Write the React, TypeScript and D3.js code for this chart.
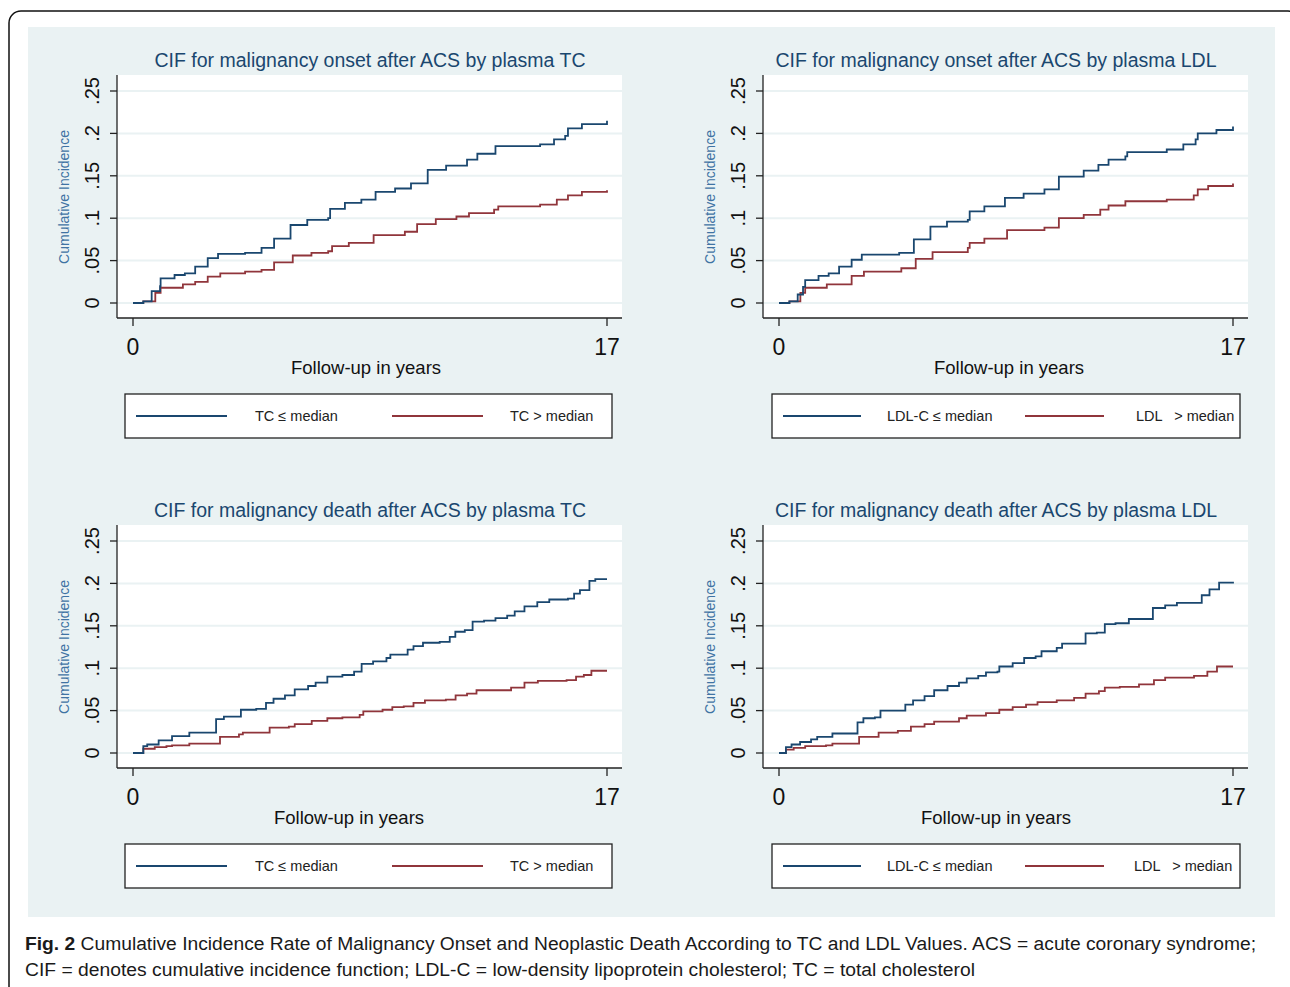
import React from 'react';
import * as d3 from 'd3';

// step-curve readings: [years, cumulative incidence]
const onsetTcLow: [number, number][] = [
  [0, 0], [0.37, 0.002], [0.67, 0.014], [0.97, 0.02], [0.99, 0.029], [1.49, 0.033], [1.86, 0.035],
  [2.23, 0.043], [2.68, 0.053], [3.05, 0.058], [4.02, 0.059], [4.61, 0.065], [5.06, 0.076],
  [5.65, 0.092], [6.25, 0.098], [7.0, 0.1], [7.07, 0.111], [7.6, 0.118], [8.19, 0.122],
  [8.7, 0.131], [9.4, 0.135], [9.97, 0.141], [10.57, 0.157], [11.23, 0.162], [11.98, 0.169],
  [12.35, 0.176], [13.0, 0.185], [14.6, 0.187], [15.1, 0.193], [15.5, 0.197], [15.6, 0.206],
  [16.1, 0.211], [17, 0.215],
];
const onsetTcHigh: [number, number][] = [
  [0, 0], [0.37, 0.002], [0.8, 0.012], [0.99, 0.018], [1.79, 0.022], [2.23, 0.025], [2.68, 0.031],
  [3.13, 0.035], [4.02, 0.037], [4.61, 0.039], [5.06, 0.048], [5.73, 0.056], [6.4, 0.059],
  [7.0, 0.061], [7.14, 0.067], [7.74, 0.071], [8.63, 0.08], [9.75, 0.084], [10.19, 0.093],
  [10.86, 0.099], [11.6, 0.102], [12.05, 0.106], [12.95, 0.11], [13.1, 0.114], [14.6, 0.116],
  [15.2, 0.122], [15.6, 0.127], [16.1, 0.131], [17, 0.133],
];
const onsetLdlLow: [number, number][] = [
  [0, 0], [0.39, 0.002], [0.7, 0.01], [0.9, 0.019], [0.98, 0.027], [1.48, 0.032], [1.86, 0.035],
  [2.25, 0.043], [2.72, 0.051], [3.1, 0.057], [4.5, 0.059], [5.05, 0.075], [5.67, 0.09],
  [6.29, 0.096], [7.07, 0.098], [7.14, 0.108], [7.69, 0.114], [8.46, 0.124], [9.16, 0.129],
  [9.94, 0.134], [10.48, 0.149], [11.41, 0.156], [11.96, 0.163], [12.34, 0.169], [12.97, 0.173],
  [13.04, 0.178], [14.52, 0.181], [15.14, 0.187], [15.6, 0.193], [15.68, 0.2], [16.38, 0.204],
  [17, 0.208],
];
const onsetLdlHigh: [number, number][] = [
  [0, 0], [0.39, 0.002], [0.8, 0.012], [0.98, 0.018], [1.79, 0.022], [2.72, 0.032], [3.18, 0.037],
  [4.04, 0.037], [4.58, 0.041], [5.12, 0.052], [5.75, 0.06], [7.07, 0.065], [7.14, 0.071],
  [7.69, 0.076], [8.54, 0.086], [9.94, 0.089], [10.48, 0.1], [11.41, 0.104], [12.03, 0.11],
  [12.34, 0.115], [12.97, 0.12], [14.52, 0.122], [15.53, 0.127], [15.68, 0.134], [16.07, 0.138],
  [17, 0.141],
];
const deathTcLow: [number, number][] = [
  [0, 0], [0.37, 0.008], [0.51, 0.01], [0.92, 0.015], [1.4, 0.02], [2.02, 0.024], [2.7, 0.024],
  [2.98, 0.04], [3.26, 0.043], [3.87, 0.051], [4.42, 0.052], [4.77, 0.059], [5.04, 0.064],
  [5.45, 0.068], [5.8, 0.075], [6.28, 0.079], [6.55, 0.083], [6.97, 0.09], [7.51, 0.092],
  [7.93, 0.096], [8.2, 0.105], [8.61, 0.108], [9.09, 0.112], [9.23, 0.116], [9.85, 0.122],
  [10.06, 0.126], [10.4, 0.13], [11.0, 0.131], [11.36, 0.137], [11.56, 0.143], [11.9, 0.145],
  [12.18, 0.155], [12.59, 0.156], [13.0, 0.159], [13.42, 0.162], [13.69, 0.167], [14.04, 0.173],
  [14.5, 0.178], [14.93, 0.181], [15.6, 0.182], [15.82, 0.188], [16.03, 0.192], [16.37, 0.203],
  [16.58, 0.205], [17, 0.205],
];
const deathTcHigh: [number, number][] = [
  [0, 0], [0.37, 0.005], [0.78, 0.007], [1.2, 0.008], [1.4, 0.009], [2.02, 0.011], [2.7, 0.011],
  [3.12, 0.019], [3.8, 0.022], [3.94, 0.024], [4.49, 0.024], [4.9, 0.03], [5.59, 0.031],
  [5.8, 0.034], [6.41, 0.038], [6.97, 0.041], [7.51, 0.042], [8.13, 0.045], [8.26, 0.049],
  [8.95, 0.051], [9.3, 0.054], [9.71, 0.055], [10.06, 0.059], [10.47, 0.062], [11.22, 0.063],
  [11.57, 0.068], [11.98, 0.07], [12.32, 0.074], [13.08, 0.074], [13.56, 0.077], [14.04, 0.083],
  [14.52, 0.085], [15.55, 0.086], [15.89, 0.09], [16.17, 0.092], [16.44, 0.097], [17, 0.097],
];
const deathLdlLow: [number, number][] = [
  [0, 0], [0.26, 0.007], [0.47, 0.01], [0.79, 0.013], [1.2, 0.016], [1.43, 0.019], [2.0, 0.023],
  [2.65, 0.023], [2.94, 0.036], [3.16, 0.041], [3.59, 0.042], [3.8, 0.05], [4.37, 0.05],
  [4.73, 0.057], [5.02, 0.062], [5.45, 0.067], [5.81, 0.074], [6.31, 0.079], [6.74, 0.083],
  [7.03, 0.088], [7.46, 0.091], [7.75, 0.095], [8.18, 0.096], [8.25, 0.102], [8.75, 0.106],
  [9.18, 0.112], [9.61, 0.114], [9.83, 0.12], [10.4, 0.124], [10.6, 0.129], [11.05, 0.129],
  [11.48, 0.141], [11.9, 0.142], [12.2, 0.152], [12.6, 0.153], [13.1, 0.158], [13.6, 0.158],
  [14.0, 0.171], [14.46, 0.174], [14.9, 0.177], [15.54, 0.177], [15.83, 0.186], [16.12, 0.193],
  [16.48, 0.201], [17, 0.202],
];
const deathLdlHigh: [number, number][] = [
  [0, 0], [0.26, 0.004], [0.55, 0.006], [0.98, 0.008], [1.76, 0.009], [2.0, 0.011], [2.65, 0.011],
  [3.0, 0.019], [3.73, 0.024], [4.45, 0.026], [4.94, 0.031], [5.45, 0.034], [5.81, 0.037],
  [6.74, 0.041], [7.03, 0.044], [7.75, 0.047], [8.25, 0.051], [8.75, 0.054], [9.25, 0.057],
  [9.68, 0.06], [10.4, 0.062], [11.05, 0.065], [11.48, 0.07], [11.98, 0.073], [12.2, 0.077],
  [12.76, 0.078], [13.48, 0.081], [14.04, 0.086], [14.46, 0.089], [15.54, 0.091], [16.04, 0.096],
  [16.4, 0.102], [17, 0.102],
];

const titles = [
  'CIF for malignancy onset after ACS by plasma TC',
  'CIF for malignancy onset after ACS by plasma LDL',
  'CIF for malignancy death after ACS by plasma TC',
  'CIF for malignancy death after ACS by plasma LDL',
];
const lowLabels = ['TC ≤ median', 'LDL-C ≤ median', 'TC ≤ median', 'LDL-C ≤ median'];
const highLabels = ['TC > median', 'LDL   > median', 'TC > median', 'LDL   > median'];
const lowSeries = [onsetTcLow, onsetLdlLow, deathTcLow, deathLdlLow];
const highSeries = [onsetTcHigh, onsetLdlHigh, deathTcHigh, deathLdlHigh];
const yTicks = [0, 0.05, 0.1, 0.15, 0.2, 0.25];
const yTickLabels = ['0', '.05', '.1', '.15', '.2', '.25'];
const xTicks = [0, 17];

const BLUE = '#1a476f';
const RED = '#90353b';
const BG = '#eaf2f3';
const FONT = "'Liberation Sans', Arial, sans-serif";

// panel layout (pixels)
const panels = [
  { left: 117, right: 622, x0: 133, x1: 607, top: 75, title: 370, xt: 366, lg: [125, 612], l1: [136, 227, 255], l2: [392, 483, 510] },
  { left: 763, right: 1248, x0: 779, x1: 1233, top: 75, title: 996, xt: 1009, lg: [772, 1240], l1: [783, 861, 887], l2: [1025, 1104, 1136] },
  { left: 117, right: 622, x0: 133, x1: 607, top: 525, title: 370, xt: 349, lg: [125, 612], l1: [136, 227, 255], l2: [392, 483, 510] },
  { left: 763, right: 1248, x0: 779, x1: 1233, top: 525, title: 996, xt: 996, lg: [772, 1240], l1: [783, 861, 887], l2: [1025, 1104, 1134] },
];

const Panel = ({ i }: { i: number }) => {
  const p = panels[i];
  const top = p.top;
  const bottom = top + 243;
  const x = d3.scaleLinear().domain([0, 17]).range([p.x0, p.x1]);
  const y = d3.scaleLinear().domain([0, 0.25]).range([top + 228, top + 16]);
  const line = d3
    .line<[number, number]>()
    .x((d) => x(d[0]))
    .y((d) => y(d[1]))
    .curve(d3.curveStepAfter);
  const lgTop = top + 319;
  const lgMid = lgTop + 22;

  return (
    <g>
      <text x={p.title} y={top - 8} textAnchor='middle' fill={BLUE} fontSize={19.5} fontFamily={FONT}>
        {titles[i]}
      </text>
      <rect x={p.left} y={top} width={p.right - p.left} height={bottom - top} fill='#ffffff' />
      {yTicks.map((t) => (
        <line key={'g' + t} x1={p.left} x2={p.right} y1={y(t)} y2={y(t)} stroke={BG} strokeWidth={2} />
      ))}
      {yTicks.map((t, k) => (
        <g key={'t' + t}>
          <line x1={p.left - 7} x2={p.left} y1={y(t)} y2={y(t)} stroke='#222' strokeWidth={1.3} />
          <text
            transform={`translate(${p.left - 18},${y(t)}) rotate(-90)`}
            textAnchor='middle'
            fontSize={20}
            fontFamily={FONT}
            fill='#111'
          >
            {yTickLabels[k]}
          </text>
        </g>
      ))}
      <text
        transform={`translate(${p.left - 48},${top + 122}) rotate(-90)`}
        textAnchor='middle'
        fontSize={14}
        fontFamily={FONT}
        fill='#3f73a3'
      >
        Cumulative Incidence
      </text>
      <path d={line(highSeries[i]) || ''} fill='none' stroke={RED} strokeWidth={1.8} />
      <path d={line(lowSeries[i]) || ''} fill='none' stroke={BLUE} strokeWidth={1.8} />
      <line x1={p.left} x2={p.left} y1={top} y2={bottom} stroke='#222' strokeWidth={1.3} />
      <line x1={p.left} x2={p.right} y1={bottom} y2={bottom} stroke='#222' strokeWidth={1.3} />
      {xTicks.map((t) => (
        <g key={'x' + t}>
          <line x1={x(t)} x2={x(t)} y1={bottom} y2={bottom + 8} stroke='#222' strokeWidth={1.3} />
          <text x={x(t)} y={bottom + 37} textAnchor='middle' fontSize={23} fontFamily={FONT} fill='#111'>
            {t}
          </text>
        </g>
      ))}
      <text x={p.xt} y={bottom + 56} textAnchor='middle' fontSize={18.5} fontFamily={FONT} fill='#111'>
        Follow-up in years
      </text>
      <rect x={p.lg[0]} y={lgTop} width={p.lg[1] - p.lg[0]} height={44} fill='#ffffff' stroke='#222' strokeWidth={1.3} />
      <line x1={p.l1[0]} x2={p.l1[1]} y1={lgMid} y2={lgMid} stroke={BLUE} strokeWidth={2} />
      <text x={p.l1[2]} y={lgMid + 5} fontSize={14.5} fontFamily={FONT} fill='#222'>
        {lowLabels[i]}
      </text>
      <line x1={p.l2[0]} x2={p.l2[1]} y1={lgMid} y2={lgMid} stroke={RED} strokeWidth={2} />
      <text x={p.l2[2]} y={lgMid + 5} fontSize={14.5} fontFamily={FONT} fill='#222' style={{ whiteSpace: 'pre' }}>
        {highLabels[i]}
      </text>
    </g>
  );
};

const App = () => {
  return (
    <svg
      width={1290}
      height={987}
      style={{ position: 'absolute', left: 0, top: 0, background: '#ffffff' }}
    >
      <rect x={9} y={11} width={1291} height={1000} rx={12} fill='#ffffff' stroke='#111' strokeWidth={1.5} />
      <rect x={28} y={27} width={1247} height={890} fill={BG} />
      {panels.map((_, i) => (
        <Panel key={i} i={i} />
      ))}
      <g fontFamily="'Liberation Sans Narrow', 'Liberation Sans', Arial, sans-serif" fontSize={18} fill='#1a1a1a'>
        <text x={25} y={950} textLength={1231} lengthAdjust='spacingAndGlyphs'>
          <tspan fontWeight='bold'>Fig. 2</tspan> Cumulative Incidence Rate of Malignancy Onset and Neoplastic Death According to TC and LDL Values. ACS = acute coronary syndrome;
        </text>
        <text x={25} y={976} textLength={950} lengthAdjust='spacingAndGlyphs'>
          CIF = denotes cumulative incidence function; LDL-C = low-density lipoprotein cholesterol; TC = total cholesterol
        </text>
      </g>
    </svg>
  );
};

export default App;
